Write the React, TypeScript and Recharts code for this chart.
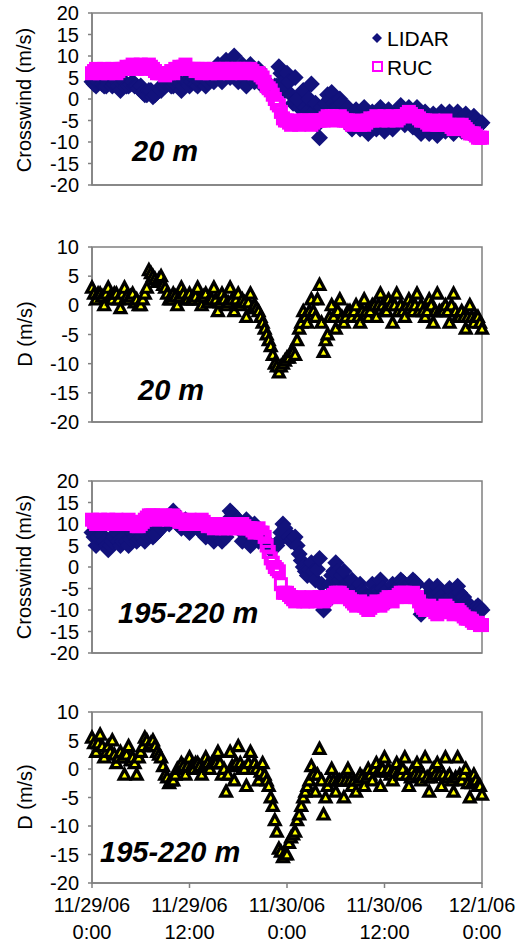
import { ScatterChart, Scatter, XAxis, YAxis, ReferenceArea } from 'recharts'

const FONT = '"Liberation Sans", Arial, Helvetica, sans-serif'
const NAVY = '#12127c'
const MAGENTA = '#ff00ff'
const YELLOW = '#ffff00'
const FRAME = '#808080'

// samples on the hour and half hour (A) and at the quarter hours between them (B),
// 11/29/06 0:00 -> 12/1/06 0:00
const HOURS_A = Array.from({ length: 97 }, (_, i) => i * 0.5)
const HOURS_B = Array.from({ length: 96 }, (_, i) => i * 0.5 + 0.25)
const X_TICKS = [0, 12, 24, 36, 48]
const DATE_LABELS = ['11/29/06', '11/29/06', '11/30/06', '11/30/06', '12/1/06']
const TIME_LABELS = ['0:00', '12:00', '0:00', '12:00', '0:00']
const CROSS_TICKS = [-20, -15, -10, -5, 0, 5, 10, 15, 20]
const D_TICKS = [-20, -15, -10, -5, 0, 5, 10]

// 20 m
const LIDAR_20 = [
  4, 3, 5, 3, 4, 3, 4, 2, 4, 3, 4, 3, 3,
  1, 2, 0.5, 1.5, 2, 3,
  4, 3, 4, 2, 4, 3, 5, 3, 4, 3, 5, 4,
  8, 4, 9, 5, 10, 4, 8, 3, 8, 4,
  7, 3, 4, 2, 3,
  7.5, 4, 6, 1, 5,
  -2, 2, -3, 3.5, -1,
  -9, -4, 1,
  1.5, -2, 0, -3,
  -2, -7, -2.5, -7, -2, -8, -3, -7, -2, -7.5, -2.5, -7, -3,
  -1.5, -6, -2, -6.5, -2,
  -8, -3, -8, -3.5, -8.5, -3, -7.5, -3, -8, -3,
  -7.5, -3.5, -8, -4, -6.5, -5.5,
]
const LIDAR_20_B = [
  3.5, 4, 3.5, 3, 4, 3.5, 3, 3.5, 3, 3.5, 3, 2.5,
  1.5, 1, 2, 1, 2.5, 3,
  3.5, 3, 3.5, 4, 3, 4, 4, 3.5, 4, 4.5, 4, 5,
  6, 6, 7, 6, 7, 6, 6, 5, 6, 5,
  5, 4, 3, 3, 2.5,
  3, 6, 2, 4, -1,
  0, -1, -2, 0, -3,
  -6, -2, -1,
  0, -1, -2, -1,
  -4, -5, -4, -5, -5, -4, -5, -5, -4, -5, -5, -4, -5,
  -3, -4, -4, -4, -4,
  -5, -6, -5, -6, -6, -5, -6, -5, -6, -5,
  -5, -6, -6, -6, -5, -6,
]
const RUC_20 = [
  6, 7, 6, 7, 6, 7, 6, 7, 7,
  7, 8, 7, 8, 7, 8, 7,
  6, 6, 5.5, 6, 6,
  7, 7, 8, 7, 7, 7, 6, 7,
  6, 7, 6, 7, 7, 6, 7, 7, 6, 7, 7, 6, 6,
  5, 3, 2, 0, -1.5,
  -4.5, -5, -6, -5, -6, -5, -5, -6, -5, -5,
  -5, -4, -4, -5, -4, -5, -5, -6, -5, -6,
  -6, -5, -5, -4, -5, -4, -5, -4, -5, -4,
  -4, -3, -4, -4, -5, -5,
  -6, -5, -6, -6, -5, -6, -7, -6, -6, -7,
  -8, -8, -9, -9,
]
const RUC_20_B = [
  6.5, 6.5, 6.5, 6.5, 6.5, 6.5, 6.5, 7,
  7.5, 7.5, 7.5, 7.5, 7.5, 7.5, 7.5,
  6.5, 6, 6, 6, 6.5,
  7, 7.5, 7.5, 7, 7, 6.5, 6.5, 7,
  6.5, 6.5, 6.5, 7, 6.5, 6.5, 7, 6.5, 6.5, 7, 6.5, 6.5, 6,
  5.5, 4, 2.5, 1, -1,
  -3, -5, -5.5, -5.5, -5.5, -5.5, -5, -5.5, -5.5, -5,
  -5, -4.5, -4.5, -4.5, -4.5, -4.5, -5, -5.5, -5.5, -5.5,
  -5.5, -5.5, -4.5, -4.5, -4.5, -4.5, -4.5, -4.5, -4.5, -4.5,
  -4, -3.5, -3.5, -4, -4.5, -5,
  -5.5, -5.5, -5.5, -6, -5.5, -6, -6.5, -6.5, -6.5, -6.5,
  -7.5, -8, -8.5, -9,
]
const D_20 = [
  3, 1, 2, 0, 3, 1, 2, -0.5, 3, 1, 2,
  1, 0, 2,
  6, 5, 4, 5, 3,
  1, 2, 0, 3, 1, 2,
  1, 3, 0, 2, 1, 3, -1, 2, 0, 3, -1, 2, 1, -2, 2, 0,
  -1, -3, -5, -7, -10,
  -11.5, -10, -9, -8, -8.5,
  -4, -1, -3, 1, -2,
  3.5, -8, -5,
  0, -4, 1, -3, -1, -2, 0, -3, 1, -2,
  0, -2, 2, -1, 1, -3, 2, 0, -2, 1, -1, 2,
  0, -2, 1, -3, 2, -1, 0, -3,
  2, -2, -1, -4, 0, -3, -2, -4,
]
const D_20_B = [
  2, 2, 1.5, 2, 1.5, 2, 1, 2, 1.5, 1.5,
  0.5, 0, 1, 3,
  5.5, 4.5, 4.5, 3.5,
  2, 1, 1.5, 1.5, 2, 1,
  1, 1.5, 1, 1.5, 0.5, 1, 1, 0.5, 1, 0.5, 1, 1, 0, 0.5, 0.5, -0.5,
  -0.5, -2, -4, -6, -8.5,
  -10.5, -10.5, -9.5, -9, -8,
  -6, -3, -2, -1, -1,
  1, -3, -6,
  -2, -2, -1, -2, -2, -1, -1, -2, -1, -1,
  -1, 0, 0, 0, -1, 0, 0, -1, -1, 0, 0, 0,
  -1, -1, -1, 0, -1, -1, -1, -1,
  0, -1, -2, -2, -2, -2, -2, -3,
]

// 195-220 m
const LIDAR_200 = [
  8, 5, 9, 6, 4,
  6, 8, 5, 7, 5, 8, 6, 7,
  6, 9, 7, 8,
  9, 11, 10, 13,
  10, 9, 11, 8, 10, 9,
  8, 7, 9, 6, 8, 6, 7,
  13, 12,
  11, 6, 11, 5, 10, 6,
  8, 5, 4, 5,
  6, 10,
  8, 6, 7,
  3, 0,
  -2, 1, -3, 2,
  -10, -7,
  -2, 1, -3, -1,
  -4, -3, -7, -4, -6, -8, -4, -7, -3, -6, -8, -4, -5,
  -3, -4, -5, -3, -4,
  -11,
  -7, -4.5, -8, -4.5, -7, -9, -5, -8, -4.5, -7,
  -8, -9, -10, -9, -10,
]
const LIDAR_200_B = [
  7, 7, 7.5, 5,
  5, 7, 6, 6, 6, 6.5, 7, 6.5,
  7, 7.5, 8, 7.5,
  8.5, 10, 10.5, 11,
  11.5, 10, 10, 9.5, 9.5, 9.5,
  9, 8, 7.5, 7.5, 7, 7, 8.5,
  11, 12.5,
  11, 8.5, 8, 8, 8, 7,
  7, 6.5, 4.5, 4.5,
  5, 8,
  9, 7, 6.5,
  5, 1.5,
  -1, -0.5, -1, -0.5,
  -4, -8.5,
  -4, -1, -1, -2,
  -4, -4.5, -5.5, -6, -5.5, -7, -6.5, -6, -5.5, -5, -7, -6.5, -5.5,
  -4.5, -3.5, -4.5, -4, -3.5,
  -7,
  -9, -6.5, -7, -6.5, -6, -8, -7.5, -7, -6.5, -6,
  -7, -8.5, -9.5, -9.5, -9.5,
]
const RUC_200 = [
  11, 10, 11, 10, 11, 10, 11, 10, 10, 11, 10,
  9.5, 10,
  11, 12, 12, 11, 12, 12, 11, 12,
  11, 11, 10, 11, 10, 10, 11, 10, 10, 9,
  10, 9, 9, 10, 9, 9, 10, 9, 9, 8, 9,
  8, 5, 2, 0, -1,
  -6, -6,
  -7, -8, -7, -8, -8, -7, -8, -7, -8, -7, -7,
  -6, -6, -7, -7,
  -8, -9, -8, -9, -10, -9, -8, -9, -8, -7, -8, -7, -6,
  -6, -7, -6, -7,
  -9, -10, -9, -10, -11, -10, -9, -10, -11, -10, -11,
  -12, -12, -13, -13, -13.5,
]
const RUC_200_B = [
  10.5, 10.5, 10.5, 10.5, 10.5, 10.5, 10.5, 10, 10.5, 10.5,
  10, 9.5,
  10.5, 11.5, 12, 11.5, 11.5, 11.5, 11.5, 11.5,
  11.5, 10.5, 10.5, 10.5, 10.5, 10.5, 10.5, 10.5, 9.5, 9.5,
  9.5, 9.5, 9.5, 9.5, 9.5, 9.5, 9.5, 9.5, 9, 8.5, 8.5,
  8, 7, 3.5, 1, -0.5,
  -4, -6,
  -6.5, -7.5, -7.5, -7.5, -7.5, -7.5, -7.5, -7.5, -7.5, -7.5, -7,
  -6.5, -6, -6.5, -7,
  -7.5, -8.5, -8.5, -8.5, -9.5, -9.5, -8.5, -8.5, -8.5, -7.5, -7.5, -7, -6.5,
  -6, -6.5, -6.5, -7,
  -8, -9.5, -9.5, -9.5, -10.5, -10.5, -9.5, -9.5, -10.5, -10.5, -10.5,
  -11.5, -12, -12.5, -13, -13.5,
]
const D_200 = [
  5.5, 3, 6, 2, 4,
  5, 1, 3, -1, 4, 2, -1, 3,
  5.5, 4, 5, 3, 2,
  -1, -2.5, -2, 0,
  1, -1, 2, 0, 1, -1, 2, 0, 1, 3, -1,
  -4, 3, -2, 4, 0, -3, 3, 1, -2,
  1, -2, -5, -9,
  -14, -15.5, -15,
  -12, -11,
  -8, -5, -3, 0.5,
  -4, 3.5, -8, -3,
  0, -4, -2, -5, 0, -3, -4, -1, -3, 0,
  -2, 1, -3, 2, 0, -2, 1, -1, 2, -3, 0, 1,
  -2, 2, -4, 0, 1, -3, 2, -1,
  -4, 2, -2, 0, -5, -1, -3, -4.5,
]
const D_200_B = [
  4.5, 4.5, 4, 3,
  3, 2.5, 2, 2, 2.5, 1.5, 1, 2,
  4, 5, 4.5, 4, 2.5,
  0.5, -1.5, -2, -1,
  0, 0.5, 0.5, 0.5, 1, 0.5, 0.5, 1, 1, 1, 1,
  0, -1, 0.5, 1, 1, 0, 1, 0, 0,
  -0.5, -1, -3, -6.5,
  -11, -14.5, -15,
  -13, -11.5,
  -9, -6.5, -4, -2,
  -1, -1, -2, -5,
  -2, -2, -2, -2, -2, -2, -2, -2, -1.5, -1.5,
  -1, 0, -0.5, 0, -0.5, -1, -0.5, -0.5, 0, -1, -1.5, -1,
  -1, -1, -1.5, -1.5, -1, -1, -1, -1.5,
  -2, -1.5, -1, -1, -2.5, -2.5, -2, -3,
]

const toPoints = (hours: number[], vals: number[]) => vals.map((v, i) => ({ h: hours[i], v }))
// both sample sets in time order, so later markers overlap earlier ones
const merged = (a: number[], b: number[]) =>
  [...toPoints(HOURS_A, a), ...toPoints(HOURS_B, b)].sort((p, q) => p.h - q.h)

// eslint-disable-next-line @typescript-eslint/no-explicit-any
const DiamondShape = (p: any) => {
  const { cx, cy } = p
  const r = 8.5
  return <path d={`M${cx},${cy - r}L${cx + r},${cy}L${cx},${cy + r}L${cx - r},${cy}Z`} fill={NAVY} />
}
// eslint-disable-next-line @typescript-eslint/no-explicit-any
const SquareShape = (p: any) => {
  const { cx, cy } = p
  return <rect x={cx - 5.5} y={cy - 5.5} width={11} height={11} fill="none" stroke={MAGENTA} strokeWidth={3} />
}
// thick black outline with a small yellow core, like the original markers
// eslint-disable-next-line @typescript-eslint/no-explicit-any
const TriangleShape = (p: any) => {
  const { cx, cy } = p
  return (
    <g>
      <path d={`M${cx},${cy - 9}L${cx + 8},${cy + 6}L${cx - 8},${cy + 6}Z`} fill="#000" />
      <path d={`M${cx},${cy - 2}L${cx + 2.6},${cy + 2.8}L${cx - 2.6},${cy + 2.8}Z`} fill={YELLOW} />
    </g>
  )
}

// eslint-disable-next-line @typescript-eslint/no-explicit-any
const DateTick = (p: any) => {
  const { x, y, payload } = p
  const i = X_TICKS.indexOf(payload.value)
  return (
    <text x={x} y={y} textAnchor="middle" fontFamily={FONT} fontSize={20} fill="#000">
      <tspan x={x} dy={22}>{DATE_LABELS[i]}</tspan>
      <tspan x={x} dy={27}>{TIME_LABELS[i]}</tspan>
    </text>
  )
}

const Y_TICK = { fontSize: 20, fill: '#000', fontFamily: FONT }
const PLOT_LEFT = 92
const PLOT_RIGHT = 482

interface PanelProps {
  top: number
  bottom: number
  domain: [number, number]
  ticks: number[]
  last?: boolean
  children: React.ReactNode
}

function Panel({ top, bottom, domain, ticks, last, children }: PanelProps) {
  const axisH = last ? 64 : 16
  return (
    <div style={{ position: 'absolute', left: 0, top: top - 13 }}>
      <ScatterChart
        width={521}
        height={bottom - top + 13 + axisH}
        margin={{ top: 13, right: 521 - PLOT_RIGHT, bottom: 0, left: 0 }}
      >
        <XAxis
          type="number"
          dataKey="h"
          domain={[0, 48]}
          ticks={X_TICKS}
          height={axisH}
          stroke={FRAME}
          strokeWidth={1.5}
          tickSize={5}
          tick={last ? DateTick : false}
          interval={0}
        />
        <YAxis
          type="number"
          dataKey="v"
          domain={domain}
          ticks={ticks}
          width={PLOT_LEFT}
          stroke={FRAME}
          strokeWidth={1.5}
          tickSize={4}
          tickMargin={9}
          tick={Y_TICK}
          interval={0}
        />
        <ReferenceArea
          x1={0}
          x2={48}
          y1={domain[0]}
          y2={domain[1]}
          fill="none"
          fillOpacity={0}
          stroke={FRAME}
          strokeWidth={1.5}
        />
        {children}
      </ScatterChart>
    </div>
  )
}

const titleStyle = { fontFamily: FONT, fontSize: 20, fill: '#000' }
const tagStyle = { fontFamily: FONT, fontSize: 29, fontWeight: 'bold' as const, fontStyle: 'italic' as const, fill: '#000' }

export default function App() {
  return (
    <div style={{ position: 'absolute', left: 0, top: 0, width: 521, height: 949, background: '#fff' }}>
      <Panel top={13} bottom={185} domain={[-20, 20]} ticks={CROSS_TICKS}>
        <Scatter data={merged(LIDAR_20, LIDAR_20_B)} shape={DiamondShape} isAnimationActive={false} />
        <Scatter data={merged(RUC_20, RUC_20_B)} shape={SquareShape} isAnimationActive={false} />
      </Panel>
      <Panel top={247} bottom={422} domain={[-20, 10]} ticks={D_TICKS}>
        <Scatter data={merged(D_20, D_20_B)} shape={TriangleShape} isAnimationActive={false} />
      </Panel>
      <Panel top={481} bottom={653} domain={[-20, 20]} ticks={CROSS_TICKS}>
        <Scatter data={merged(LIDAR_200, LIDAR_200_B)} shape={DiamondShape} isAnimationActive={false} />
        <Scatter data={merged(RUC_200, RUC_200_B)} shape={SquareShape} isAnimationActive={false} />
      </Panel>
      <Panel top={712} bottom={883} domain={[-20, 10]} ticks={D_TICKS} last>
        <Scatter data={merged(D_200, D_200_B)} shape={TriangleShape} isAnimationActive={false} />
      </Panel>

      <svg width={521} height={949} style={{ position: 'absolute', left: 0, top: 0, pointerEvents: 'none' }}>
        <text transform="translate(24,100) rotate(-90)" textAnchor="middle" dominantBaseline="central" style={titleStyle}>Crosswind (m/s)</text>
        <text transform="translate(25,334) rotate(-90)" textAnchor="middle" dominantBaseline="central" style={titleStyle}>D (m/s)</text>
        <text transform="translate(24,567) rotate(-90)" textAnchor="middle" dominantBaseline="central" style={titleStyle}>Crosswind (m/s)</text>
        <text transform="translate(25,797) rotate(-90)" textAnchor="middle" dominantBaseline="central" style={titleStyle}>D (m/s)</text>

        <text x={132} y={161} style={tagStyle}>20 m</text>
        <text x={138} y={400} style={tagStyle}>20 m</text>
        <text x={118} y={623} style={tagStyle}>195-220 m</text>
        <text x={100} y={862} style={tagStyle}>195-220 m</text>

        <path d="M377,33L382,38L377,43L372,38Z" fill={NAVY} />
        <text x={387} y={46} style={{ ...titleStyle, fontSize: 21 }}>LIDAR</text>
        <rect x={373} y={62} width={9} height={9} fill="none" stroke={MAGENTA} strokeWidth={2} />
        <text x={387} y={75} style={{ ...titleStyle, fontSize: 21 }}>RUC</text>
      </svg>
    </div>
  )
}
